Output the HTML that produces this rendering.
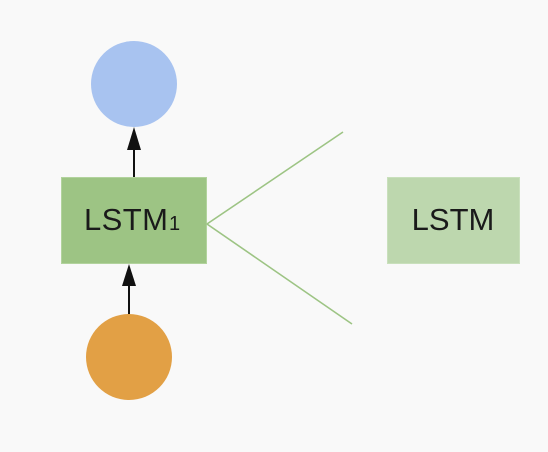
<!DOCTYPE html>
<html><head><style>html,body{margin:0;padding:0;background:#f9f9f9;}</style></head>
<body>
<svg width="548" height="452" viewBox="0 0 548 452" xmlns="http://www.w3.org/2000/svg" style="display:block">
<rect width="548" height="452" fill="#f9f9f9"/>
<circle cx="134" cy="84" r="43" fill="#a8c3f0"/>
<circle cx="129" cy="357" r="43" fill="#e2a045"/>
<rect x="61.5" y="177.5" width="145" height="86" fill="#9dc484" stroke="#b2d39d" stroke-width="1"/>
<rect x="387.5" y="177.5" width="132" height="86" fill="#bdd7ae" stroke="#c9e0bc" stroke-width="1"/>
<line x1="134" y1="177" x2="134" y2="145" stroke="#111" stroke-width="2"/>
<polygon points="134,127 127,150 141,150" fill="#111"/>
<line x1="129" y1="314" x2="129" y2="282" stroke="#111" stroke-width="2"/>
<polygon points="129,264 122,286 136,286" fill="#111"/>
<polyline points="343,132 207,224 352,324" fill="none" stroke="#9dc484" stroke-width="1.6"/>
<text x="84" y="230" font-family="Liberation Sans, sans-serif" font-size="31" textLength="84" fill="#1a1a1a">LSTM</text>
<text x="169" y="230" font-family="Liberation Sans, sans-serif" font-size="20" fill="#1a1a1a">1</text>
<text x="453" y="230" text-anchor="middle" font-family="Liberation Sans, sans-serif" font-size="31" fill="#1a1a1a">LSTM</text>
</svg>
</body></html>
